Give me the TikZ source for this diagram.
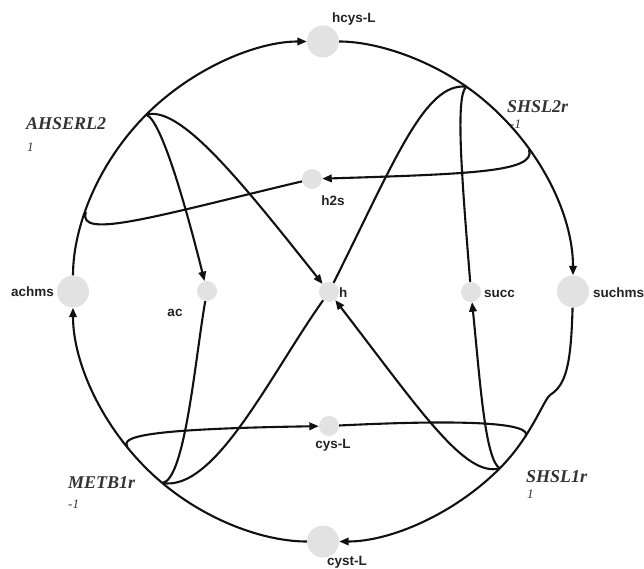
\documentclass[tikz,border=0pt]{standalone}
\usepackage{fontspec}
\usetikzlibrary{arrows.meta}
\newfontfamily\metfam{Liberation Sans}
\newfontfamily\rxnfam{Liberation Serif}
\definecolor{nodegray}{HTML}{E2E2E2}
\definecolor{rxncol}{HTML}{333333}
\definecolor{labcol}{HTML}{222222}
\definecolor{edgecol}{HTML}{111111}
\tikzset{
  met/.style={circle, fill=nodegray, inner sep=0pt, minimum size=20pt},
  bigmet/.style={met, minimum size=32pt},
  lbl/.style={font=\metfam\bfseries\fontsize{13.5}{13.5}\selectfont, text=labcol, inner sep=0pt, anchor=base},
  rxn/.style={font=\rxnfam\bfseries\itshape\fontsize{18}{18}\selectfont, text=rxncol, inner sep=0pt, anchor=base west},
  flux/.style={font=\rxnfam\itshape\fontsize{13}{13}\selectfont, text=rxncol, inner sep=0pt, anchor=base west},
  edge/.style={line width=2.1pt, draw=edgecol},
  arr/.style={edge, -{Triangle[length=9.5pt,width=7.5pt]}}
}
\begin{document}
\begin{tikzpicture}[x=1pt,y=-1pt]
\useasboundingbox (0,0) rectangle (644,569);
% metabolites
\node[bigmet] (hcys) at (323,41.5) {};
\node[bigmet] (achms) at (73,291.5) {};
\node[bigmet] (suchms) at (573,291.5) {};
\node[bigmet] (cyst) at (323,541.5) {};
\node[met] (ac) at (207,291) {};
\node[met] (h) at (329,292) {};
\node[met] (succ) at (471,292) {};
\node[met] (h2s) at (312,179) {};
\node[met] (cysL) at (329,426) {};
% labels
\node[lbl, anchor=base west] (thcys) at (332,23) {hcys-L};
\node[lbl, anchor=base east] (tachms) at (54,296) {achms};
\node[lbl] (tac) at (175,316) {ac};
\node[lbl] (th2s) at (333,206) {h2s};
\node[lbl, anchor=base west] (th) at (339,297) {h};
\node[lbl, anchor=base west] (tsucc) at (484,297) {succ};
\node[lbl, anchor=base west] (tsuchms) at (593,297) {suchms};
\node[lbl] (tcysL) at (333,448) {cys-L};
\node[lbl] (tcyst) at (347,565) {cyst-L};
% reaction points
\coordinate (RA) at (146.2,114.7);
\coordinate (RS2) at (466.4,86.7);
\coordinate (RS1) at (499.8,468.3);
\coordinate (RM) at (162.3,483);
\coordinate (XA) at (85.9,212.2);
\coordinate (XS2) at (529.1,150);
\coordinate (XS1) at (525.4,436.7);
\coordinate (XM) at (127.3,447.1);
\coordinate (W) at (550,395);
% reaction labels
\node[rxn] (lA) at (26,130) {AHSERL2};
\node[flux] (fA) at (27,152) {1};
\node[rxn] (lS2) at (507,113) {SHSL2r};
\node[flux] (fS2) at (510,129) {-1};
\node[rxn] (lM) at (68,488) {METB1r};
\node[flux] (fM) at (68,508) {-1};
\node[rxn] (lS1) at (526,482) {SHSL1r};
\node[flux] (fS1) at (527,498) {1};
% outer circle
\draw[edge] (achms) .. controls (73,225.2) and (99.3,161.6) .. (RA);
\draw[arr] (RA) .. controls (193.1,67.8) and (256.7,41.5) .. (hcys);
\draw[edge] (hcys) .. controls (374.3,41.5) and (424.4,57.3) .. (RS2);
\draw[arr] (RS2) .. controls (533.2,133.5) and (573,209.9) .. (suchms);
\draw[edge] (suchms) .. controls (571,365) and (566,385) .. (W);
\draw[edge] (W) .. controls (543,401) and (531,437) .. (RS1);
\draw[arr] (RS1) .. controls (452.9,515.2) and (389.3,541.5) .. (cyst);
\draw[edge] (cyst) .. controls (264.2,541.5) and (207.3,520.8) .. (RM);
\draw[arr] (RM) .. controls (105.7,435.5) and (73,365.4) .. (achms);
% AHSERL2
\draw[edge] (h2s) .. controls (160,215) and (76.4,240.6) .. (XA);
\draw[arr] (RA) .. controls (162,120) and (188,215) .. (ac);
\draw[arr] (RA) .. controls (180,105) and (240,180) .. (h);
% SHSL2r
\draw[arr] (XS2) .. controls (536,172) and (470,174) .. (h2s);
\draw[edge] (h) .. controls (395,160) and (425,82) .. (RS2);
\draw[edge] (succ) .. controls (462,180) and (455,95) .. (RS2);
% SHSL1r
\draw[edge] (cysL) .. controls (470,419) and (533.9,423.1) .. (XS1);
\draw[arr] (RS1) .. controls (465,478) and (420,410) .. (h);
\draw[arr] (RS1) .. controls (485,460) and (480,380) .. (succ);
% METB1r
\draw[arr] (XM) .. controls (121,437) and (140,429) .. (cysL);
\draw[edge] (ac) .. controls (195,360) and (185,480) .. (RM);
\draw[edge] (h) .. controls (270,375) and (215,492) .. (RM);
\end{tikzpicture}
\end{document}
